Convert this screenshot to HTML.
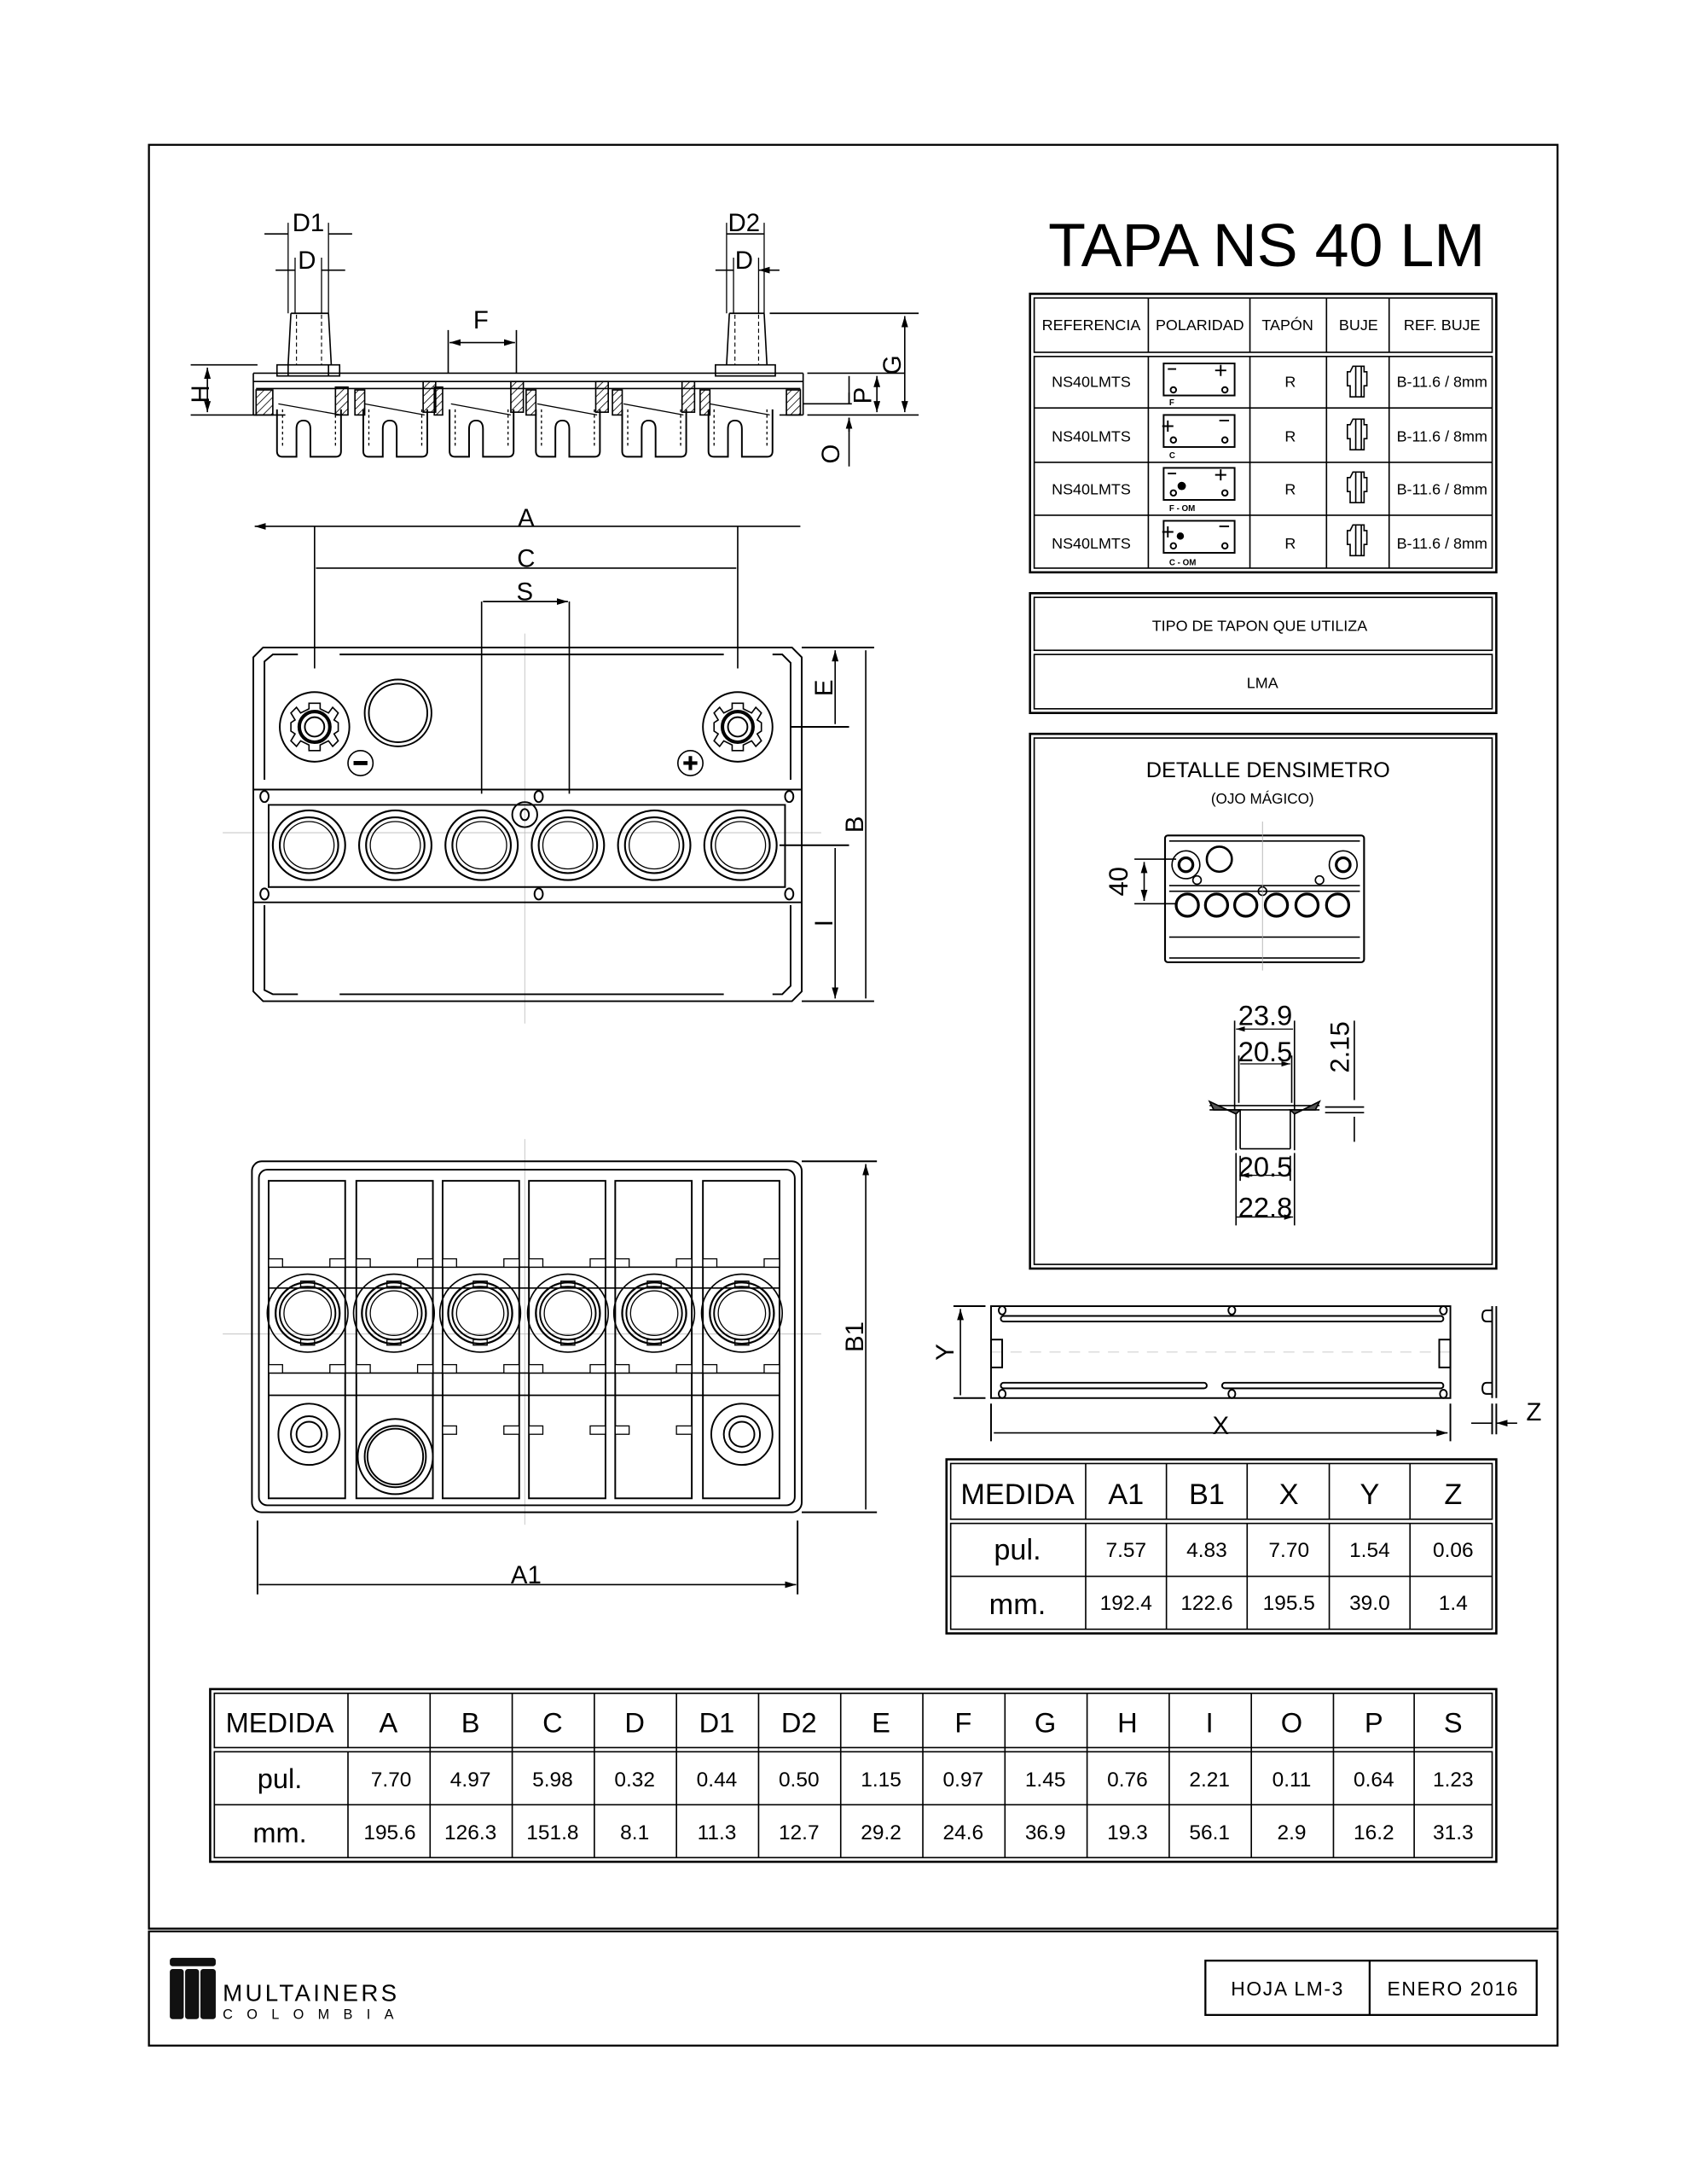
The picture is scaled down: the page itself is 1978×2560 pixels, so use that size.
<!DOCTYPE html>
<html><head><meta charset="utf-8">
<style>
html,body{margin:0;padding:0;background:#fff;}
svg{display:block;}
text{font-family:"Liberation Sans",sans-serif;fill:#000;}
</style></head>
<body>
<svg width="1978" height="2560" viewBox="0 0 1212 1568.4" preserveAspectRatio="none" xmlns="http://www.w3.org/2000/svg">
<defs>
<marker id="ar" viewBox="0 0 10 6" refX="10" refY="3" markerWidth="8" markerHeight="5" orient="auto-start-reverse"><path d="M0,0 L10,3 L0,6 Z" fill="#000"/></marker>
<pattern id="hatch" width="4" height="4" patternUnits="userSpaceOnUse" patternTransform="rotate(45)"><line x1="0" y1="0" x2="0" y2="4" stroke="#000" stroke-width="1"/></pattern>
<g id="hole">
 <ellipse cx="0" cy="0" rx="26" ry="25" fill="none" stroke="#000" stroke-width="1.3"/>
 <ellipse cx="0" cy="0" rx="21" ry="20" fill="none" stroke="#000" stroke-width="1.3"/>
 <ellipse cx="0" cy="0" rx="18" ry="17" fill="none" stroke="#000" stroke-width="0.8"/>
</g>
<g id="hole2">
 <ellipse cx="0" cy="0" rx="29" ry="28" fill="none" stroke="#000" stroke-width="1"/>
 <ellipse cx="0" cy="0" rx="23" ry="22" fill="none" stroke="#000" stroke-width="1.4"/>
 <ellipse cx="0" cy="0" rx="20" ry="19" fill="none" stroke="#000" stroke-width="1.2"/>
 <ellipse cx="0" cy="0" rx="17" ry="16" fill="none" stroke="#000" stroke-width="0.8"/>
 <rect x="-5" y="-23" width="10" height="4" fill="none" stroke="#000" stroke-width="0.8"/>
 <rect x="-5" y="19" width="10" height="4" fill="none" stroke="#000" stroke-width="0.8"/>
</g>
<g id="cell">
 <path d="M-23,0 L-23,30 Q-23,34 -19,34 L-9,34 L-9,14 Q-9,8 -4,8 Q1,8 1,14 L1,34 L19,34 Q23,34 23,30 L23,0" fill="none" stroke="#000" stroke-width="1.2"/>
 <path d="M-19,0 L-19,28 M19,0 L19,28" stroke="#000" stroke-width="0.8" stroke-dasharray="2,2"/>
</g>
<g id="term">
 <circle r="25" fill="none" stroke="#000" stroke-width="1.2"/>
 <path d="M-4,-17 L4,-17 L4,-13 L10,-10 L13,-14 L17,-10 L14,-5 L17,-3 L17,3 L14,5 L17,10 L13,14 L10,10 L4,13 L4,17 L-4,17 L-4,13 L-10,10 L-13,14 L-17,10 L-14,5 L-17,3 L-17,-3 L-14,-5 L-17,-10 L-13,-14 L-10,-10 L-4,-13 Z" fill="none" stroke="#000" stroke-width="1"/>
 <circle r="11" fill="none" stroke="#000" stroke-width="2.5"/>
 <circle r="7" fill="none" stroke="#000" stroke-width="1.2"/>
</g>
</defs>

<!-- frame -->
<rect x="107" y="104" width="1012" height="1281" fill="none" stroke="#000" stroke-width="1.4"/>
<rect x="107" y="1387" width="1012" height="82" fill="none" stroke="#000" stroke-width="1.4"/>

<!-- title -->
<text x="910" y="191" font-size="44" text-anchor="middle">TAPA NS 40 LM</text>

<!-- reference table -->
<g fill="none" stroke="#000">
<rect x="740" y="211" width="335" height="200" stroke-width="1.6"/>
<rect x="743" y="214" width="329" height="39" stroke-width="1"/>
<rect x="743" y="256" width="329" height="152" stroke-width="1"/>
<path d="M825,214V253M898,214V253M953,214V253M998,214V253M825,256V408M898,256V408M953,256V408M998,256V408M743,293H1072M743,332H1072M743,370H1072" stroke-width="1"/>
</g>
<g font-size="11" text-anchor="middle">
<text x="784" y="237">REFERENCIA</text><text x="862" y="237">POLARIDAD</text><text x="925" y="237">TAPÓN</text><text x="976" y="237">BUJE</text><text x="1036" y="237">REF. BUJE</text>
<text x="784" y="278">NS40LMTS</text><text x="784" y="317">NS40LMTS</text><text x="784" y="355">NS40LMTS</text><text x="784" y="394">NS40LMTS</text>
<text x="927" y="278">R</text><text x="927" y="317">R</text><text x="927" y="355">R</text><text x="927" y="394">R</text>
<text x="1036" y="278">B-11.6 / 8mm</text><text x="1036" y="317">B-11.6 / 8mm</text><text x="1036" y="355">B-11.6 / 8mm</text><text x="1036" y="394">B-11.6 / 8mm</text>
</g>
<g fill="none" stroke="#000" stroke-width="1.2">
<rect x="836" y="261" width="51" height="23"/><rect x="836" y="298" width="51" height="23"/><rect x="836" y="336" width="51" height="23"/><rect x="836" y="374" width="51" height="23"/>
<circle cx="843" cy="280" r="2"/><circle cx="880" cy="280" r="2"/>
<circle cx="843" cy="316" r="2"/><circle cx="880" cy="316" r="2"/>
<circle cx="843" cy="354" r="2"/><circle cx="880" cy="354" r="2"/>
<circle cx="843" cy="392" r="2"/><circle cx="880" cy="392" r="2"/>
<path d="M839,265h6M877,262v8M873,266h8 M839,302v8M835,306h8M876,302h7 M839,340h6M877,337v8M873,341h8 M839,378v8M835,382h8M876,378h7"/>
</g>
<circle cx="849" cy="349" r="3"/><circle cx="848" cy="385" r="2.6"/>
<g font-size="6" font-weight="bold"><text x="840" y="291">F</text><text x="840" y="329">C</text><text x="840" y="367">F - OM</text><text x="840" y="406">C - OM</text></g>
<g fill="none" stroke="#000" stroke-width="1">
<path d="M972,263h8v4h2v10h-2v8h-10v-8h-2v-10h2z M974,263v22M978,263v22"/>
<path d="M972,301h8v4h2v10h-2v8h-10v-8h-2v-10h2z M974,301v22M978,301v22"/>
<path d="M972,339h8v4h2v10h-2v8h-10v-8h-2v-10h2z M974,339v22M978,339v22"/>
<path d="M972,377h8v4h2v10h-2v8h-10v-8h-2v-10h2z M974,377v22M978,377v22"/>
</g>

<!-- tipo de tapon -->
<g fill="none" stroke="#000">
<rect x="740" y="426" width="335" height="86" stroke-width="1.6"/>
<rect x="743" y="429" width="329" height="38" stroke-width="1"/>
<rect x="743" y="470" width="329" height="39" stroke-width="1"/>
</g>
<text x="905" y="453" font-size="11" text-anchor="middle">TIPO DE TAPON QUE UTILIZA</text>
<text x="907" y="494" font-size="11" text-anchor="middle">LMA</text>

<!-- detalle densimetro -->
<g fill="none" stroke="#000">
<rect x="740" y="527" width="335" height="384" stroke-width="1.6"/>
<rect x="743" y="530" width="329" height="378" stroke-width="1"/>
</g>
<text x="911" y="558" font-size="15.5" text-anchor="middle">DETALLE DENSIMETRO</text>
<text x="907" y="577" font-size="10.5" text-anchor="middle">(OJO MÁGICO)</text>
<g fill="none" stroke="#000" stroke-width="1">
<rect x="837" y="600" width="143" height="91" rx="2" stroke-width="1.3"/>
<path d="M840,604h137M840,688h137M840,636h137M840,673h137M840,640h137"/>
<circle cx="852" cy="621" r="10"/><circle cx="852" cy="621" r="5" stroke-width="2"/>
<circle cx="876" cy="617" r="9" stroke-width="1.6"/>
<circle cx="965" cy="621" r="10"/><circle cx="965" cy="621" r="5" stroke-width="2"/>
<circle cx="860" cy="632" r="3"/><circle cx="948" cy="632" r="3"/>
<circle cx="853" cy="650" r="8" stroke-width="2"/><circle cx="874" cy="650" r="8" stroke-width="2"/><circle cx="895" cy="650" r="8" stroke-width="2"/><circle cx="917" cy="650" r="8" stroke-width="2"/><circle cx="939" cy="650" r="8" stroke-width="2"/><circle cx="961" cy="650" r="8" stroke-width="2"/>
<circle cx="907" cy="640" r="3"/>
<path d="M815,617h30M815,649h30"/>
<path d="M822,619V647" marker-start="url(#ar)" marker-end="url(#ar)"/>
</g>
<line x1="907" y1="590" x2="907" y2="697" stroke="#aaa" stroke-width="0.5"/>
<text transform="translate(810,633) rotate(-90)" font-size="19" text-anchor="middle">40</text>
<!-- densimeter section -->
<g fill="none" stroke="#000" stroke-width="1">
<path d="M887,733V798M930,733V798M890,758V792M928,758V792"/>
<path d="M888,739H929M891,764H927" marker-start="url(#ar)" marker-end="url(#ar)" stroke-width="0.8"/>
<path d="M869,794H948M869,797H948M891,797V825M927,797V825M888,800V826M930,800V826M891,825H927"/>
<path d="M869,791L872,797H891L888,800Z M948,791L945,797H927L930,800Z" fill="#555"/>
<path d="M888,828V880M930,828V880M891,830V848M927,830V848"/>
<path d="M891,844H927M888,874H929" marker-start="url(#ar)" marker-end="url(#ar)" stroke-width="0.8"/>
<path d="M952,795H980M952,799H980M973,733V790M973,802V820"/>
</g>
<g font-size="20" text-anchor="middle"><text x="909" y="736">23.9</text><text x="909" y="762">20.5</text><text x="909" y="845">20.5</text><text x="909" y="874">22.8</text></g>
<text transform="translate(969,752) rotate(-90)" font-size="19" text-anchor="middle">2.15</text>

<!-- side view -->
<g fill="none" stroke="#000" stroke-width="1">
<path d="M182,268H577M182,274H577M184,279H575M182,268V298M577,268V298M182,298H205M560,298H577"/>
<path d="M207,262V270M236,262V270M199,262H244V270H199Z M514,262H557V270H514Z"/>
<path d="M209,225L207,262M236,225L238,262M209,225H236M524,225L522,262M549,225L551,262M524,225H549"/>
<path d="M213,226V262M231,226V262M528,226V262M545,226V262" stroke-dasharray="3,2" stroke-width="0.7"/>
<path d="M207,160V225M236,160V225M212,185V225M231,185V225M522,160V225M549,160V225M527,185V225M545,185V225" stroke-width="0.8"/>
<path d="M190,168H207M253,168H236M198,194H212M248,194H231M522,168H549M514,194H527M560,194H545" marker-end="url(#ar)"/>
<path d="M322,237V268M371,237V268"/>
<path d="M323,246H370" marker-start="url(#ar)" marker-end="url(#ar)"/>
<path d="M137,262H185M137,298H185"/>
<path d="M149,264V296" marker-start="url(#ar)" marker-end="url(#ar)"/>
<path d="M553,225H660M580,268H650M580,298H660"/>
<path d="M650,227V296" marker-start="url(#ar)" marker-end="url(#ar)"/>
<path d="M630,270V296" marker-start="url(#ar)" marker-end="url(#ar)"/>
<path d="M577,290H612M610,270V290M610,300V335"/>
<path d="M610,282V290M610,310V300" marker-end="url(#ar)"/>
</g>
<g stroke="#000" stroke-width="1" fill="url(#hatch)">
<rect x="184" y="280" width="12" height="18"/><rect x="241" y="278" width="9" height="20"/><rect x="304" y="274" width="9" height="22"/><rect x="312" y="278" width="6" height="20"/>
<rect x="367" y="274" width="9" height="22"/><rect x="428" y="274" width="9" height="22"/><rect x="490" y="274" width="9" height="22"/><rect x="565" y="280" width="10" height="18"/>
<rect x="255" y="280" width="7" height="18"/><rect x="378" y="280" width="7" height="18"/><rect x="440" y="280" width="7" height="18"/><rect x="503" y="280" width="7" height="18"/>
</g>
<g stroke="#000" stroke-width="0.8"><path d="M200,290L245,298M262,290L305,298M324,290L367,298M386,290L429,298M448,290L491,298M510,290L553,298"/></g>
<use href="#cell" x="222" y="294"/><use href="#cell" x="284" y="294"/><use href="#cell" x="346" y="294"/><use href="#cell" x="408" y="294"/><use href="#cell" x="470" y="294"/><use href="#cell" x="532" y="294"/>
<g font-size="18"><text x="210" y="166">D1</text><text x="214" y="193">D</text><text x="523" y="166">D2</text><text x="528" y="193">D</text><text x="340" y="236">F</text></g>
<text transform="translate(150,283) rotate(-90)" font-size="18" text-anchor="middle">H</text>
<text transform="translate(647,262) rotate(-90)" font-size="18" text-anchor="middle">G</text>
<text transform="translate(626,284) rotate(-90)" font-size="18" text-anchor="middle">P</text>
<text transform="translate(603,326) rotate(-90)" font-size="18" text-anchor="middle">O</text>

<!-- top view -->
<g stroke="#bbb" stroke-width="0.5"><path d="M377,455V735M160,598H590"/></g>
<g fill="none" stroke="#000" stroke-width="1.2">
<path d="M189,465H569L576,472V712L569,719H189L182,712V472Z"/>
<path d="M190,477V475L196,470H214M244,470H520M555,470H562L568,476V560M190,477V560M190,650V711L196,714H214M244,714H520M555,714H562L568,708V650"/>
<path d="M182,567H576M182,648H576M193,578H564V637H193Z"/>
<path d="M226,378V480M530,378V480M346,432V570M409,432V570" stroke-width="1"/>
<path d="M576,465H628M576,719H628M568,522H610M560,607H610"/>
<path d="M183,378H575M227,408H529M347,432H408" stroke-width="1" marker-start="url(#ar)" marker-end="url(#ar)"/>
<path d="M600,467V520M622,467V717M600,609V717" stroke-width="1" marker-start="url(#ar)" marker-end="url(#ar)"/>
<circle cx="286" cy="512" r="24"/><circle cx="286" cy="512" r="21"/>
<circle cx="259" cy="548" r="9" stroke-width="1"/><path d="M254,548H264" stroke-width="3"/>
<circle cx="496" cy="548" r="9" stroke-width="1"/><path d="M491,548H501M496,543V553" stroke-width="2.5"/>
<ellipse cx="377" cy="585" rx="9" ry="9"/><ellipse cx="377" cy="585" rx="3" ry="4"/>
<ellipse cx="190" cy="572" rx="3" ry="4"/><ellipse cx="387" cy="572" rx="3" ry="4"/><ellipse cx="567" cy="572" rx="3" ry="4"/>
<ellipse cx="190" cy="642" rx="3" ry="4"/><ellipse cx="387" cy="642" rx="3" ry="4"/><ellipse cx="567" cy="642" rx="3" ry="4"/>
</g>
<use href="#term" x="226" y="522"/><use href="#term" x="530" y="522"/>
<use href="#hole" x="222" y="607"/><use href="#hole" x="284" y="607"/><use href="#hole" x="346" y="607"/><use href="#hole" x="408" y="607"/><use href="#hole" x="470" y="607"/><use href="#hole" x="532" y="607"/>
<g font-size="18" text-anchor="middle"><text x="378" y="378">A</text><text x="378" y="407">C</text><text x="377" y="431">S</text></g>
<text transform="translate(598,494) rotate(-90)" font-size="18" text-anchor="middle">E</text>
<text transform="translate(620,592) rotate(-90)" font-size="18" text-anchor="middle">B</text>
<text transform="translate(598,663) rotate(-90)" font-size="18" text-anchor="middle">I</text>

<!-- bottom view -->
<g stroke="#bbb" stroke-width="0.5"><path d="M377,818V1095M160,958H590"/></g>
<g fill="none" stroke="#000" stroke-width="1.2">
<rect x="181" y="834" width="395" height="252" rx="7"/>
<rect x="186" y="840" width="385" height="241" rx="6"/>
<rect x="193" y="848" width="55" height="228"/><rect x="256" y="848" width="55" height="228"/><rect x="318" y="848" width="55" height="228"/><rect x="380" y="848" width="55" height="228"/><rect x="442" y="848" width="55" height="228"/><rect x="505" y="848" width="55" height="228"/>
<path d="M193,910H560M193,925H560M193,986H560M193,1002H560" stroke-width="1"/>
<circle cx="222" cy="1030" r="22"/><circle cx="222" cy="1030" r="13"/><circle cx="222" cy="1030" r="9"/>
<circle cx="533" cy="1030" r="22"/><circle cx="533" cy="1030" r="13"/><circle cx="533" cy="1030" r="9"/>
<circle cx="284" cy="1046" r="27"/><circle cx="284" cy="1046" r="22"/><circle cx="284" cy="1046" r="20"/>
<path d="M576,834H630M576,1086H630M185,1092V1145M573,1092V1145"/>
<path d="M622,836V1084M186,1138H572" stroke-width="1" marker-start="url(#ar)" marker-end="url(#ar)"/>
</g>
<g fill="#fff" stroke="#000" stroke-width="0.8">
<rect x="193" y="904" width="10" height="6"/><rect x="237" y="904" width="11" height="6"/><rect x="256" y="904" width="10" height="6"/><rect x="300" y="904" width="11" height="6"/><rect x="318" y="904" width="10" height="6"/><rect x="362" y="904" width="11" height="6"/><rect x="380" y="904" width="10" height="6"/><rect x="424" y="904" width="11" height="6"/><rect x="442" y="904" width="10" height="6"/><rect x="486" y="904" width="11" height="6"/><rect x="505" y="904" width="10" height="6"/><rect x="549" y="904" width="11" height="6"/>
<rect x="193" y="980" width="10" height="6"/><rect x="237" y="980" width="11" height="6"/><rect x="256" y="980" width="10" height="6"/><rect x="300" y="980" width="11" height="6"/><rect x="318" y="980" width="10" height="6"/><rect x="362" y="980" width="11" height="6"/><rect x="380" y="980" width="10" height="6"/><rect x="424" y="980" width="11" height="6"/><rect x="442" y="980" width="10" height="6"/><rect x="486" y="980" width="11" height="6"/><rect x="505" y="980" width="10" height="6"/><rect x="549" y="980" width="11" height="6"/>
<rect x="318" y="1024" width="10" height="6"/><rect x="362" y="1024" width="11" height="6"/><rect x="380" y="1024" width="10" height="6"/><rect x="424" y="1024" width="11" height="6"/><rect x="442" y="1024" width="10" height="6"/><rect x="486" y="1024" width="11" height="6"/>
</g>
<use href="#hole2" x="221" y="943"/><use href="#hole2" x="283" y="943"/><use href="#hole2" x="345" y="943"/><use href="#hole2" x="408" y="943"/><use href="#hole2" x="470" y="943"/><use href="#hole2" x="533" y="943"/>
<text transform="translate(620,960) rotate(-90)" font-size="18" text-anchor="middle">B1</text>
<text x="378" y="1137" font-size="18" text-anchor="middle">A1</text>

<!-- strip view -->
<g stroke="#bbb" stroke-width="0.5" stroke-dasharray="8,6"><path d="M712,971H1042"/></g>
<g fill="none" stroke="#000" stroke-width="1.2">
<rect x="712" y="938" width="330" height="66"/>
<rect x="719" y="945" width="318" height="4" rx="2"/>
<rect x="719" y="993" width="148" height="4" rx="2"/><rect x="878" y="993" width="159" height="4" rx="2"/>
<ellipse cx="720" cy="941" rx="2.5" ry="3"/><ellipse cx="885" cy="941" rx="2.5" ry="3"/><ellipse cx="1037" cy="941" rx="2.5" ry="3"/>
<ellipse cx="720" cy="1001" rx="2.5" ry="3"/><ellipse cx="885" cy="1001" rx="2.5" ry="3"/><ellipse cx="1037" cy="1001" rx="2.5" ry="3"/>
<rect x="712" y="962" width="8" height="20"/><rect x="1034" y="962" width="8" height="20"/>
<path d="M1072,938V1004M1075,938V1004M1072,941H1068Q1065,941 1065,945Q1065,949 1068,949H1072M1072,993H1068Q1065,993 1065,997Q1065,1001 1068,1001H1072"/>
<path d="M685,938H708M685,1004H708M712,1008V1035M1042,1008V1035M1072,1008V1030M1075,1008V1030"/>
<path d="M690,940V1002M714,1029H1040" stroke-width="1" marker-start="url(#ar)" marker-end="url(#ar)"/>
<path d="M1057,1022H1072M1090,1022H1075" stroke-width="1" marker-end="url(#ar)"/>
</g>
<text transform="translate(685,971) rotate(-90)" font-size="18" text-anchor="middle">Y</text>
<text x="877" y="1030" font-size="18" text-anchor="middle">X</text>
<text x="1102" y="1020" font-size="18" text-anchor="middle">Z</text>

<!-- small medida table -->
<g fill="none" stroke="#000">
<rect x="680" y="1048" width="395" height="125" stroke-width="1.6"/>
<rect x="683" y="1051" width="389" height="40" stroke-width="1"/>
<rect x="683" y="1094" width="389" height="76" stroke-width="1"/>
<path d="M780,1051V1091M838,1051V1091M896,1051V1091M955,1051V1091M1013,1051V1091M780,1094V1170M838,1094V1170M896,1094V1170M955,1094V1170M1013,1094V1170M683,1132H1072" stroke-width="1"/>
</g>
<g text-anchor="middle">
<g font-size="21"><text x="731" y="1080">MEDIDA</text><text x="809" y="1080">A1</text><text x="867" y="1080">B1</text><text x="926" y="1080">X</text><text x="984" y="1080">Y</text><text x="1044" y="1080">Z</text>
<text x="731" y="1120">pul.</text><text x="731" y="1159">mm.</text></g>
<g font-size="15"><text x="809" y="1118">7.57</text><text x="867" y="1118">4.83</text><text x="926" y="1118">7.70</text><text x="984" y="1118">1.54</text><text x="1044" y="1118">0.06</text>
<text x="809" y="1156">192.4</text><text x="867" y="1156">122.6</text><text x="926" y="1156">195.5</text><text x="984" y="1156">39.0</text><text x="1044" y="1156">1.4</text></g>
</g>

<!-- big table -->
<g fill="none" stroke="#000">
<rect x="151" y="1213" width="924" height="124" stroke-width="1.6"/>
<rect x="154" y="1216" width="918" height="39" stroke-width="1"/>
<rect x="154" y="1258" width="918" height="76" stroke-width="1"/>
<path d="M154,1296H1072 M250,1216V1255M250,1258V1334 M309,1216V1334M368,1216V1334M427,1216V1334M486,1216V1334M545,1216V1334M604,1216V1334M663,1216V1334M722,1216V1334M781,1216V1334M840,1216V1334M899,1216V1334M958,1216V1334M1016,1216V1334" stroke-width="1"/>
</g>
<g text-anchor="middle">
<g font-size="20"><text x="201" y="1244">MEDIDA</text>
<text x="279" y="1244">A</text><text x="338" y="1244">B</text><text x="397" y="1244">C</text><text x="456" y="1244">D</text><text x="515" y="1244">D1</text><text x="574" y="1244">D2</text><text x="633" y="1244">E</text><text x="692" y="1244">F</text><text x="751" y="1244">G</text><text x="810" y="1244">H</text><text x="869" y="1244">I</text><text x="928" y="1244">O</text><text x="987" y="1244">P</text><text x="1044" y="1244">S</text>
<text x="201" y="1284">pul.</text><text x="201" y="1323">mm.</text></g>
<g font-size="15"><text x="281" y="1283">7.70</text><text x="338" y="1283">4.97</text><text x="397" y="1283">5.98</text><text x="456" y="1283">0.32</text><text x="515" y="1283">0.44</text><text x="574" y="1283">0.50</text><text x="633" y="1283">1.15</text><text x="692" y="1283">0.97</text><text x="751" y="1283">1.45</text><text x="810" y="1283">0.76</text><text x="869" y="1283">2.21</text><text x="928" y="1283">0.11</text><text x="987" y="1283">0.64</text><text x="1044" y="1283">1.23</text>
<text x="280" y="1321">195.6</text><text x="338" y="1321">126.3</text><text x="397" y="1321">151.8</text><text x="456" y="1321">8.1</text><text x="515" y="1321">11.3</text><text x="574" y="1321">12.7</text><text x="633" y="1321">29.2</text><text x="692" y="1321">24.6</text><text x="751" y="1321">36.9</text><text x="810" y="1321">19.3</text><text x="869" y="1321">56.1</text><text x="928" y="1321">2.9</text><text x="987" y="1321">16.2</text><text x="1044" y="1321">31.3</text></g>
</g>

<!-- footer -->
<rect x="122" y="1406" width="33" height="6" rx="2" fill="#111"/>
<rect x="122" y="1414" width="10" height="36" rx="2" fill="#111"/>
<rect x="133" y="1414" width="10" height="36" rx="2" fill="#111"/>
<rect x="144" y="1414" width="11" height="36" rx="2" fill="#111"/>
<text x="160" y="1437" font-size="17" letter-spacing="2">MULTAINERS</text>
<text x="160" y="1450" font-size="10" letter-spacing="10">COLOMBIA</text>
<g fill="none" stroke="#000" stroke-width="1.4"><rect x="866" y="1408" width="238" height="39"/><path d="M984,1408V1447"/></g>
<text x="925" y="1433" font-size="14" text-anchor="middle" letter-spacing="1">HOJA  LM-3</text>
<text x="1044" y="1433" font-size="14" text-anchor="middle" letter-spacing="1">ENERO  2016</text>
</svg>
</body></html>
